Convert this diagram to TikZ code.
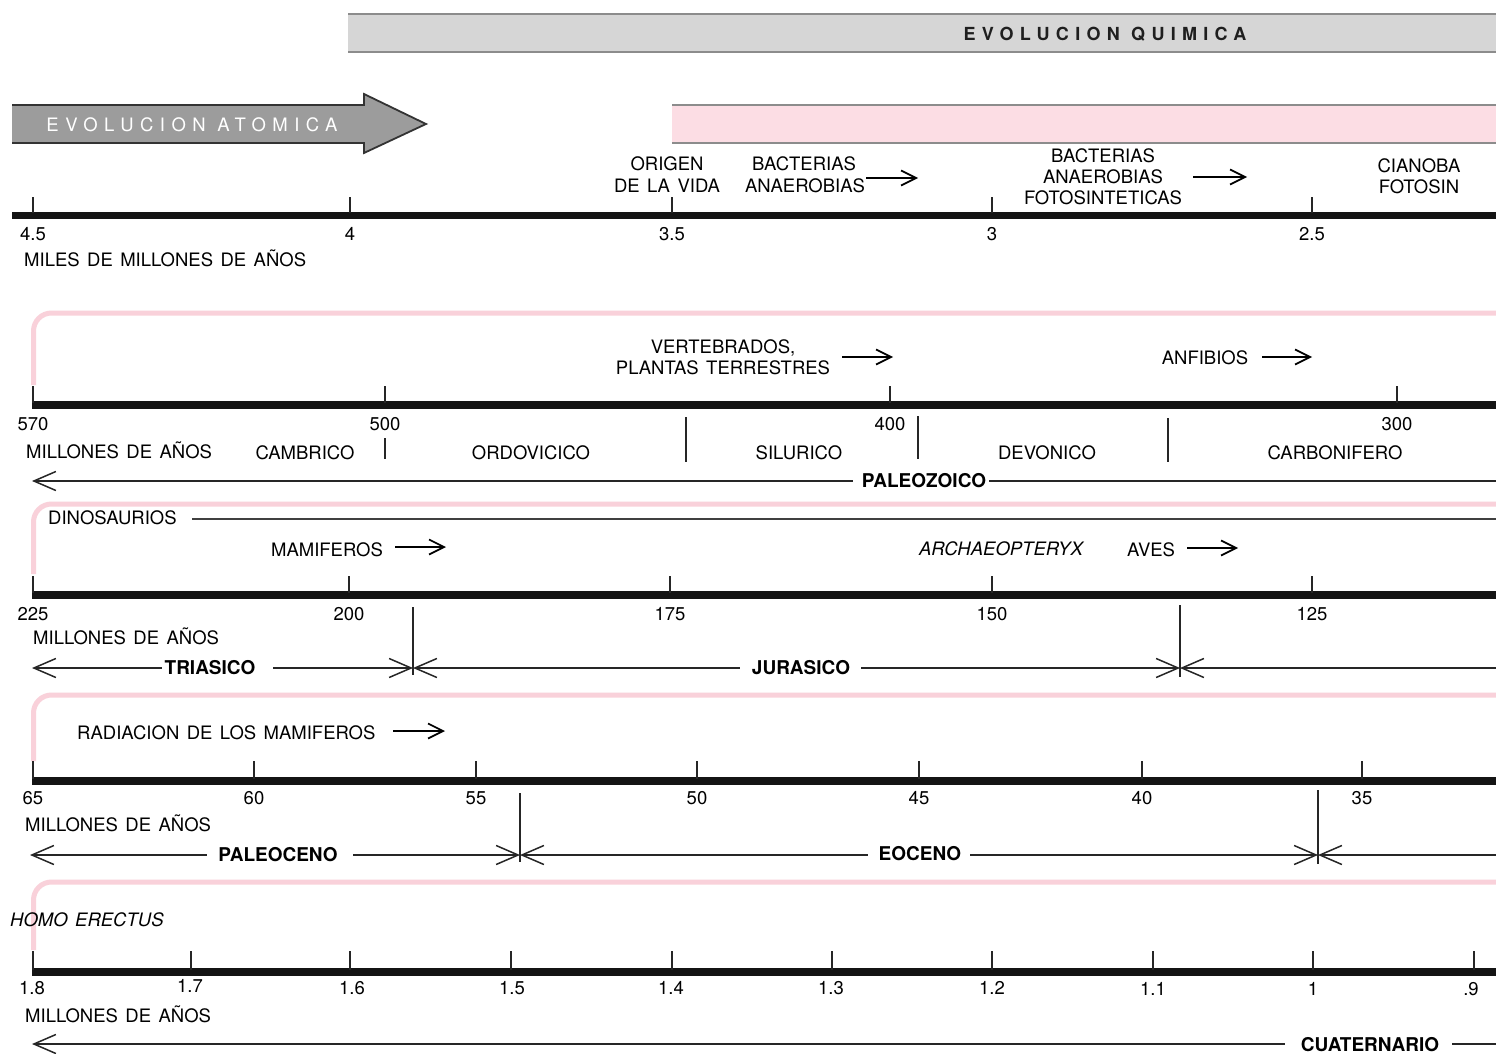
\documentclass[tikz,border=0pt]{standalone}
\usepackage{fontspec}
\setmainfont{TeX Gyre Heros}[WordSpace=1.45]
\newfontfamily\spacedfont{TeX Gyre Heros}[LetterSpace=35]
\usetikzlibrary{arrows.meta}
\definecolor{pinkc}{HTML}{F9D1DA}
\definecolor{pinkfill}{HTML}{FCDDE4}
\definecolor{barfill}{HTML}{D6D6D6}
\definecolor{barline}{HTML}{8C8C8C}
\definecolor{arrfill}{HTML}{9C9C9C}
\begin{document}
\begin{tikzpicture}[x=1pt,y=-1pt,
  lbl/.style={inner sep=0pt, font=\fontsize{18.5}{22}\selectfont, text height=13.3pt, text depth=0pt},
  ital/.style={lbl, font=\fontsize{18.5}{22}\selectfont\itshape},
  eralbl/.style={lbl, font=\fontsize{19}{22}\selectfont\bfseries, text height=13.7pt},
  axisline/.style={line width=7.5pt, black!92},
  tickline/.style={line width=2pt, black!85},
  bound/.style={line width=1.4pt, black!85},
  eraline/.style={line width=1.5pt, black!85},
  pinkline/.style={line width=5pt, pinkc, rounded corners=18pt},
  smallarr/.style={line width=1.7pt, black, -{Straight Barb[length=15pt,width=15pt]}},
  bigl/.style={eraline, {Straight Barb[length=22pt,width=19pt]}-},
  bigr/.style={eraline, -{Straight Barb[length=22pt,width=19pt]}}
]
\fill[white] (0,0) rectangle (1496,1054);
\useasboundingbox (0,0) rectangle (1496,1054);

% ---------------- Section 1 ----------------
\fill[barfill] (348,14) rectangle (1496,52);
\draw[barline, line width=2pt] (348,14) -- (1496,14) (348,52) -- (1496,52);
\node[inner sep=0pt, font=\fontsize{18}{20}\selectfont\spacedfont\bfseries, text height=13pt, text depth=0pt, text=black!88] (evq) at (1105,34) {EVOLUCION QUIMICA};

\fill[arrfill] (12,105) -- (364,105) -- (364,94) -- (426,124) -- (364,153) -- (364,143) -- (12,143) -- cycle;
\draw[black!80, line width=1.8pt, line join=miter] (12,105) -- (364,105) -- (364,94) -- (426,124) -- (364,153) -- (364,143) -- (12,143);
\node[inner sep=0pt, font=\fontsize{18.5}{20}\selectfont\spacedfont, text height=13.3pt, text depth=0pt, text=white] (eva) at (192,125) {EVOLUCION ATOMICA};

\fill[pinkfill] (672,105) rectangle (1496,143);
\draw[barline, line width=1.5pt] (672,105) -- (1496,105) (672,143) -- (1496,143);

\draw[axisline] (12,215.5) -- (1496,215.5);
\foreach \x/\t [count=\i] in {33/4.5,350/4,672/3.5,992/3,1312/2.5}{
  \draw[tickline] (\x,197) -- (\x,213);
  \node[lbl] (aa\i) at (\x,234) {\t};
}
\node[lbl, anchor=west] (miles) at (24,260) {MILES DE MILLONES DE AÑOS};

\node[lbl] (orig1) at (667,164) {ORIGEN};
\node[lbl] (orig2) at (667,186) {DE LA VIDA};
\node[lbl] (bact1) at (804,164) {BACTERIAS};
\node[lbl] (bact2) at (805,186) {ANAEROBIAS};
\coordinate (ar1s) at (866,178); \coordinate (ar1e) at (918,178);
\draw[smallarr] (ar1s) -- (ar1e);
\node[lbl] (baf1) at (1103,156) {BACTERIAS};
\node[lbl] (baf2) at (1103,177) {ANAEROBIAS};
\node[lbl] (baf3) at (1103,198) {FOTOSINTETICAS};
\coordinate (ar2s) at (1193,177); \coordinate (ar2e) at (1247,177);
\draw[smallarr] (ar2s) -- (ar2e);
\node[lbl] (cia1) at (1419,166) {CIANOBA};
\node[lbl] (cia2) at (1419,187) {FOTOSIN};

% ---------------- Section 2 ----------------
\draw[pinkline] (33.5,385) -- (33.5,313) -- (1496,313);
\draw[axisline] (32,405) -- (1496,405);
\foreach \x/\t [count=\i] in {33/570,385/500,890/400,1397/300}{
  \draw[tickline] (\x,386) -- (\x,403);
  \node[lbl] (ba\i) at (\x,424) {\t};
}
\node[lbl, anchor=west] (mill2) at (26,452) {MILLONES DE AÑOS};
\node[lbl] (camb) at (305,453) {CAMBRICO};
\node[lbl] (ordo) at (531,453) {ORDOVICICO};
\node[lbl] (silu) at (799,453) {SILURICO};
\node[lbl] (devo) at (1047,453) {DEVONICO};
\node[lbl] (carb) at (1335,453) {CARBONIFERO};
\draw[bound] (385,438) -- (385,459);
\draw[bound] (686,417) -- (686,462);
\draw[bound] (918,416) -- (918,459);
\draw[bound] (1168,418) -- (1168,462);
\node[eralbl] (paleoz) at (924,481) {PALEOZOICO};
\coordinate (p2a) at (32,481); \coordinate (p2b) at (853,481);
\coordinate (p2c) at (989,481); \coordinate (p2d) at (1496,481);
\draw[bigl] (p2a) -- (p2b);
\draw[eraline] (p2c) -- (p2d);
\node[lbl] (vert1) at (723,347) {VERTEBRADOS,};
\node[lbl] (vert2) at (723,368) {PLANTAS TERRESTRES};
\coordinate (ar3s) at (842,357); \coordinate (ar3e) at (893,357);
\draw[smallarr] (ar3s) -- (ar3e);
\node[lbl] (anfi) at (1205,358) {ANFIBIOS};
\coordinate (ar4s) at (1262,357); \coordinate (ar4e) at (1312,357);
\draw[smallarr] (ar4s) -- (ar4e);

% ---------------- Section 3 ----------------
\draw[pinkline] (33.5,574) -- (33.5,504) -- (1496,504);
\node[lbl, anchor=west] (dino) at (48,518) {DINOSAURIOS};
\coordinate (dn1) at (192,519); \coordinate (dn2) at (1496,519);
\draw[line width=1.4pt, black!75] (dn1) -- (dn2);
\node[lbl] (mami) at (327,550) {MAMIFEROS};
\coordinate (ar5s) at (395,547); \coordinate (ar5e) at (446,547);
\draw[smallarr] (ar5s) -- (ar5e);
\node[ital] (arch) at (1001,549) {ARCHAEOPTERYX};
\node[lbl] (aves) at (1151,550) {AVES};
\coordinate (ar6s) at (1187,548); \coordinate (ar6e) at (1238,548);
\draw[smallarr] (ar6s) -- (ar6e);
\draw[axisline] (32,595) -- (1496,595);
\foreach \x/\t [count=\i] in {33/225,349/200,670/175,992/150,1312/125}{
  \draw[tickline] (\x,576) -- (\x,593);
  \node[lbl] (ca\i) at (\x,614) {\t};
}
\node[lbl, anchor=west] (mill3) at (33,638) {MILLONES DE AÑOS};
\draw[bound] (413,607) -- (413,675);
\draw[bound] (1180,605) -- (1180,677);
\node[eralbl] (trias) at (210,668) {TRIASICO};
\node[eralbl] (juras) at (801,668) {JURASICO};
\coordinate (t3a) at (32,668); \coordinate (t3b) at (162,668);
\coordinate (t3c) at (273,668); \coordinate (t3d) at (413,668);
\coordinate (t3e) at (740,668); \coordinate (t3f) at (861,668);
\coordinate (t3g) at (1180,668); \coordinate (t3h) at (1496,668);
\draw[bigl] (t3a) -- (t3b);
\draw[bigr] (t3c) -- (t3d);
\draw[bigl] (t3d) -- (t3e);
\draw[bigr] (t3f) -- (t3g);
\draw[bigl] (t3g) -- (t3h);

% ---------------- Section 4 ----------------
\draw[pinkline] (33.5,761) -- (33.5,695) -- (1496,695);
\node[lbl, anchor=west] (radi) at (77,733) {RADIACION DE LOS MAMIFEROS};
\coordinate (ar7s) at (393,731); \coordinate (ar7e) at (445,731);
\draw[smallarr] (ar7s) -- (ar7e);
\draw[axisline] (32,781) -- (1496,781);
\foreach \x/\t [count=\i] in {33/65,254/60,476/55,697/50,919/45,1142/40,1362/35}{
  \draw[tickline] (\x,761) -- (\x,779);
  \node[lbl] (da\i) at (\x,798) {\t};
}
\node[lbl, anchor=west] (mill4) at (25,825) {MILLONES DE AÑOS};
\draw[bound] (520,793) -- (520,862);
\draw[bound] (1318,790) -- (1318,864);
\node[eralbl] (paleoc) at (278,855) {PALEOCENO};
\node[eralbl] (eoc) at (920,854) {EOCENO};
\coordinate (t4a) at (30,855); \coordinate (t4b) at (207,855);
\coordinate (t4c) at (353,855); \coordinate (t4d) at (520,855);
\coordinate (t4e) at (868,855); \coordinate (t4f) at (970,855);
\coordinate (t4g) at (1318,855); \coordinate (t4h) at (1496,855);
\draw[bigl] (t4a) -- (t4b);
\draw[bigr] (t4c) -- (t4d);
\draw[bigl] (t4d) -- (t4e);
\draw[bigr] (t4f) -- (t4g);
\draw[bigl] (t4g) -- (t4h);

% ---------------- Section 5 ----------------
\draw[pinkline] (33.5,950) -- (33.5,882) -- (1496,882);
\node[ital, anchor=west] (homo) at (10,920) {HOMO ERECTUS};
\draw[axisline] (32,972) -- (1496,972);
\foreach \x/\t [count=\i] in {33/1.8,191/1.7,350/1.6,511/1.5,672/1.4,832/1.3,992/1.2,1153/1.1,1313/1,1474/.9}{
  \draw[tickline] (\x,951) -- (\x,970);
}
\foreach \x/\y/\t [count=\i] in {32/988/1.8,190/986/1.7,352/988/1.6,512/988/1.5,671/988/1.4,831/988/1.3,992/988/1.2,1153/989/1.1,1313/989/1,1471/989/.9}{
  \node[lbl] (ea\i) at (\x,\y) {\t};
}
\node[lbl, anchor=west] (mill5) at (25,1016) {MILLONES DE AÑOS};
\node[eralbl] (cuat) at (1370,1045) {CUATERNARIO};
\coordinate (t5a) at (32,1044); \coordinate (t5b) at (1285,1044);
\coordinate (t5c) at (1452,1044); \coordinate (t5d) at (1496,1044);
\draw[bigl] (t5a) -- (t5b);
\draw[eraline] (t5c) -- (t5d);
\end{tikzpicture}
\end{document}
